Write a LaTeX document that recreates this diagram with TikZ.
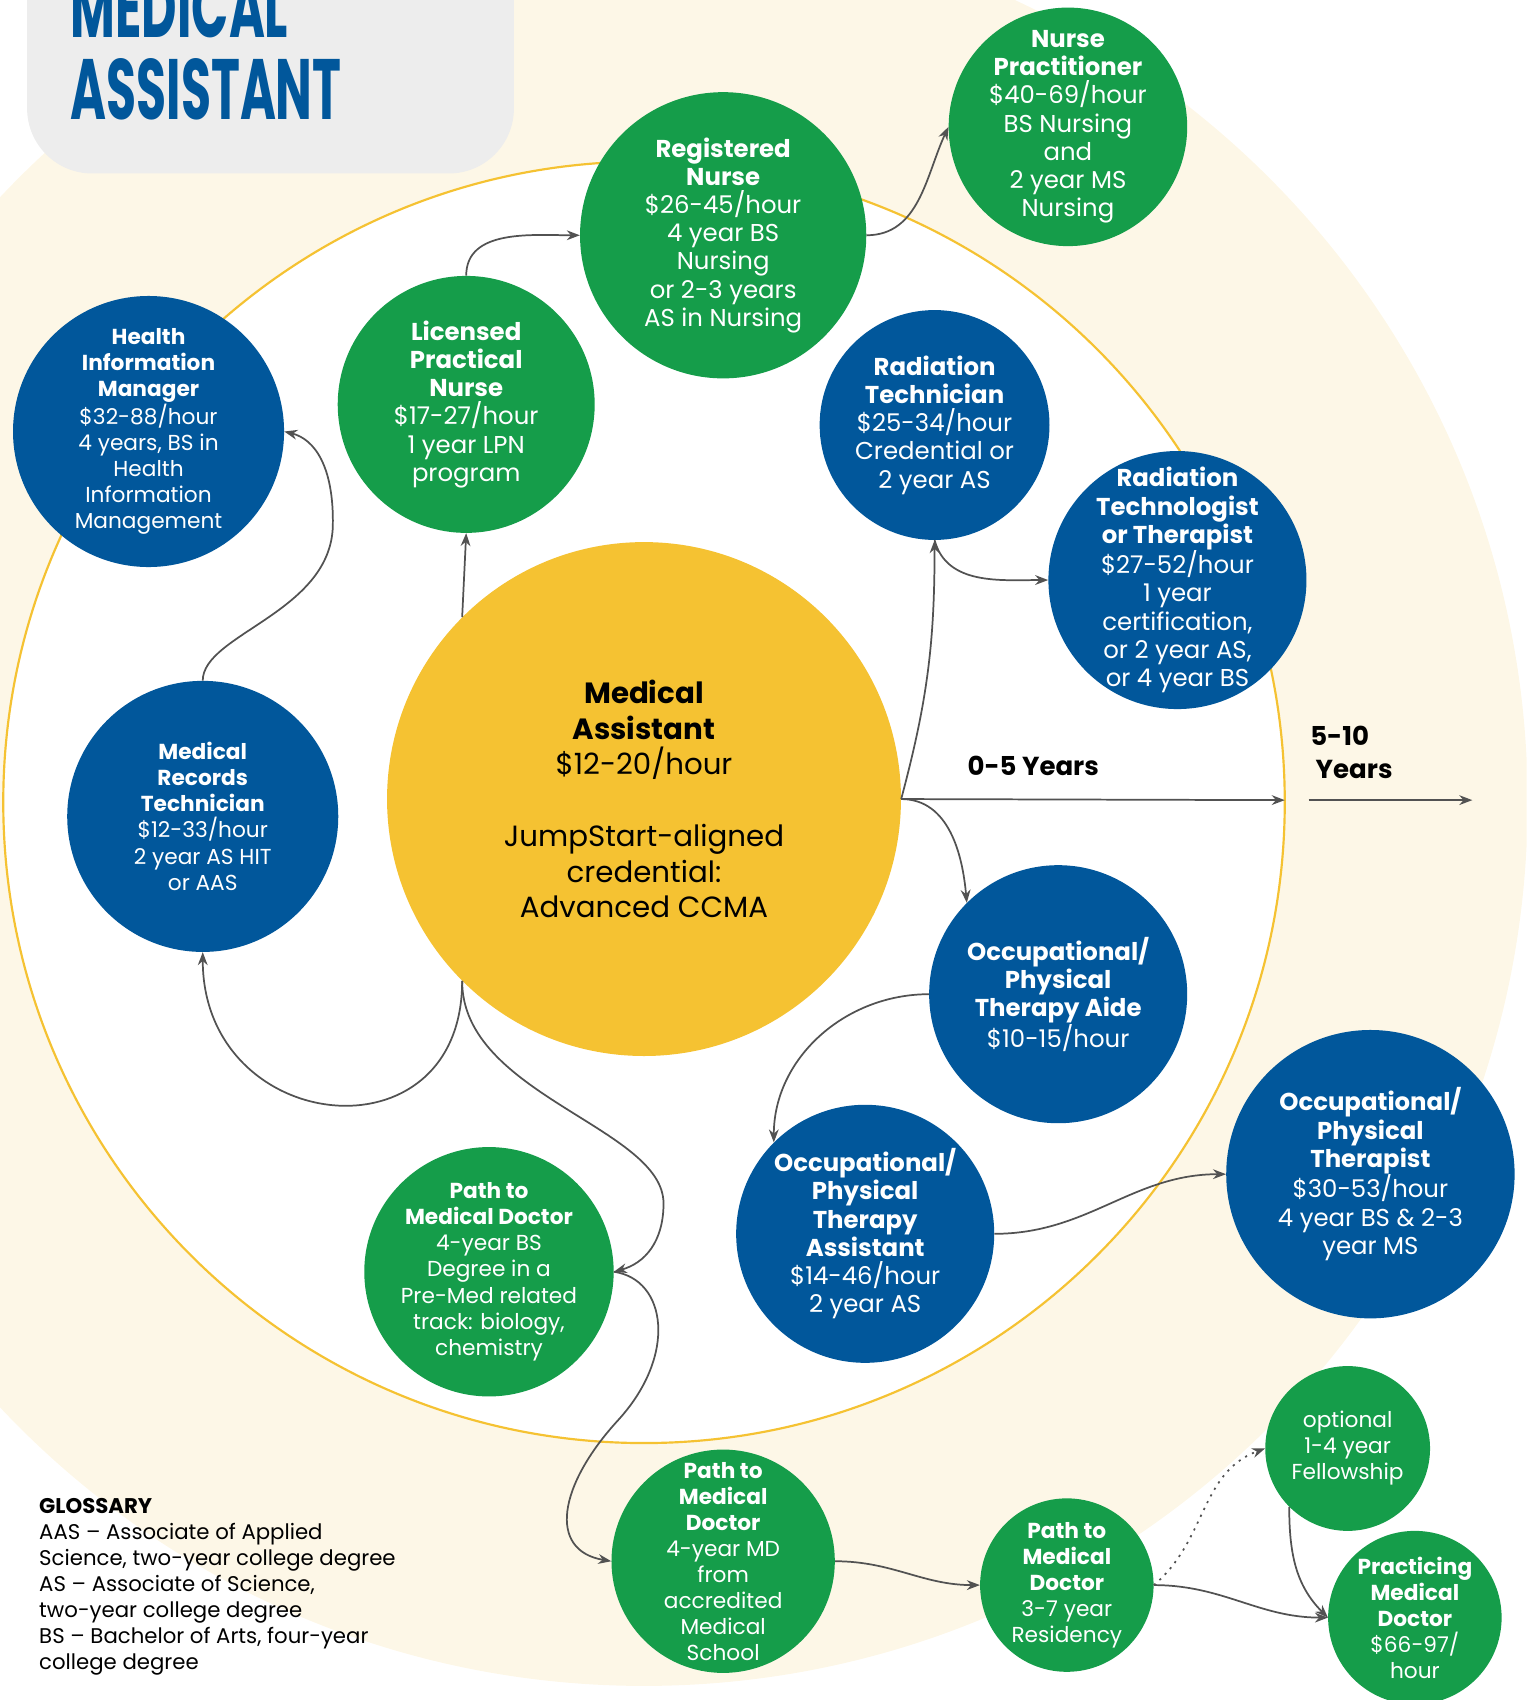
\documentclass[tikz,border=0pt]{standalone}
\usepackage{fontspec}
\setmainfont{Poppins}
\usetikzlibrary{arrows.meta}
\definecolor{MAGreen}{RGB}{21,157,74}
\definecolor{MABlue}{RGB}{1,87,155}
\definecolor{MAYellow}{RGB}{245,194,50}
\definecolor{MACream}{RGB}{253,247,231}
\definecolor{MAGray}{RGB}{237,237,237}
\definecolor{MAArrow}{RGB}{82,82,82}

\begin{document}
\begin{tikzpicture}[>={Stealth[length=12pt,width=9pt]},x=1pt,y=-1pt,
    bub/.style={circle,inner sep=-25pt,align=center,text=white,font=\fontsize{22.5}{26}\selectfont,
      execute at begin node={\rule{0pt}{1.05em}}},
    grn/.style={bub,fill=MAGreen},
    blu/.style={bub,fill=MABlue},
    sm/.style={font=\fontsize{20}{24}\selectfont},
    link/.style={->,line width=1.6pt,MAArrow}]
      \clip (0,0) rectangle (1408,1568);
      % rings
      \fill[MACream] (594,740) circle[radius=815pt];
      \draw[MAYellow,line width=2pt,fill=white] (594,740) circle[radius=591pt];
      % title
      \fill[MAGray,rounded corners=60pt] (25,-100) rectangle (474,160);
      \node[anchor=base west,inner sep=0pt,text=MABlue] (t1) at (65,35) {\scalebox{0.57}[1]{\fontsize{79}{79}\selectfont\bfseries MEDICAL}};
      \node[anchor=base west,inner sep=0pt,text=MABlue] (t2) at (65,110) {\scalebox{0.57}[1]{\fontsize{79}{79}\selectfont\bfseries ASSISTANT}};

      \node[circle,inner sep=0pt,fill=MAYellow,minimum size=474pt,align=center,font=\fontsize{27}{33}\selectfont] (ma) at (594,737)
        {\textbf{Medical}\\\textbf{Assistant}\\\$12-20/hour\\[33pt]JumpStart-aligned\\credential:\\Advanced CCMA};

      \node[grn,minimum size=220pt] (np) at (985,117) {\textbf{Nurse}\\\textbf{Practitioner}\\\$40-69/hour\\BS Nursing\\and\\2 year MS\\Nursing};
      \node[grn,minimum size=264pt] (rn) at (667,217) {\textbf{Registered}\\\textbf{Nurse}\\\$26-45/hour\\4 year BS\\Nursing\\or 2-3 years\\AS in Nursing};
      \node[grn,minimum size=237pt] (lpn) at (430,373) {\textbf{Licensed}\\\textbf{Practical}\\\textbf{Nurse}\\\$17-27/hour\\1 year LPN\\program};
      \node[blu,sm,minimum size=250pt] (him) at (137,398) {\textbf{Health}\\\textbf{Information}\\\textbf{Manager}\\\$32-88/hour\\4 years, BS in\\Health\\Information\\Management};
      \node[blu,minimum size=212pt] (rt) at (862,392) {\textbf{Radiation}\\\textbf{Technician}\\\$25-34/hour\\Credential or\\2 year AS};
      \node[blu,minimum size=238pt] (rtt) at (1086,535) {\textbf{Radiation}\\\textbf{Technologist}\\\textbf{or Therapist}\\\$27-52/hour\\1 year\\certification,\\or 2 year AS,\\or 4 year BS};
      \node[blu,sm,minimum size=250pt] (mrt) at (187,753) {\textbf{Medical}\\\textbf{Records}\\\textbf{Technician}\\\$12-33/hour\\2 year AS HIT\\or AAS};
      \node[blu,minimum size=238pt] (aide) at (976,917) {\textbf{Occupational/}\\\textbf{Physical}\\\textbf{Therapy Aide}\\\$10-15/hour};
      \node[blu,minimum size=238pt] (ota) at (798,1138) {\textbf{Occupational/}\\\textbf{Physical}\\\textbf{Therapy}\\\textbf{Assistant}\\\$14-46/hour\\2 year AS};
      \node[blu,minimum size=266pt] (ott) at (1264,1083) {\textbf{Occupational/}\\\textbf{Physical}\\\textbf{Therapist}\\\$30-53/hour\\4 year BS \& 2-3\\year MS};
      \node[grn,sm,minimum size=230pt] (md1) at (451,1173) {\textbf{Path to}\\\textbf{Medical Doctor}\\4-year BS\\Degree in a\\Pre-Med related\\track: biology,\\chemistry};
      \node[grn,sm,minimum size=206pt] (md2) at (667,1440) {\textbf{Path to}\\\textbf{Medical}\\\textbf{Doctor}\\4-year MD\\from\\accredited\\Medical\\School};
      \node[grn,sm,minimum size=160pt] (res) at (984,1462) {\textbf{Path to}\\\textbf{Medical}\\\textbf{Doctor}\\3-7 year\\Residency};
      \node[grn,sm,minimum size=152pt] (fel) at (1243,1336) {optional\\1-4 year\\Fellowship};
      \node[grn,sm,minimum size=160pt] (pmd) at (1305,1492) {\textbf{Practicing}\\\textbf{Medical}\\\textbf{Doctor}\\\$66-97/\\hour};

      % time scale
      \coordinate (yr5) at (1185,738);
      \coordinate (yr10a) at (1207,738);
      \coordinate (yr10b) at (1358,738);
      \node[font=\fontsize{24}{30}\selectfont\bfseries] (l5) at (953,706) {0-5 Years};
      \node[font=\fontsize{24}{30}\selectfont\bfseries,align=left,anchor=west] (l10) at (1205,694) {5-10\\\hspace{5pt}Years};

      % arrows
      \draw[link] (lpn.north) to[out=90,in=180] (rn.west);
      \draw[link] (rn.east) to[out=0,in=245] (np.west);
      \draw[link] (ma.135) -- (lpn.south);
      \draw[link] (mrt.north) .. controls (187,585) and (305,565) .. (307,485) .. controls (308,430) and (290,405) .. (him.east);
      \draw[link] (ma.225) to[out=-90,in=-90,looseness=1.8] (mrt.south);
      \draw[link] (ma.225) .. controls (426,1010) and (612,1040) .. (612,1110) .. controls (612,1145) and (595,1165) .. (md1.east);
      \draw[link] (md1.east) .. controls (615,1180) and (625,1250) .. (570,1310) .. controls (515,1370) and (505,1430) .. (md2.west);
      \draw[link] (md2.east) to[out=0,in=180] (res.west);
      \draw[link,dash pattern=on 2pt off 5pt] (res.east) to[out=40,in=200] (fel.west);
      \draw[link] (res.east) to[out=0,in=180] (pmd.west);
      \draw[link] (fel.225) to[out=-90,in=135] (pmd.west);
      \draw[link] (ma.east) to[out=75,in=-90] (rt.south);
      \draw[link] (rt.south) to[out=-75,in=180] (rtt.west);
      \draw[link] (ma.east) -- (yr5);
      \draw[link] (ma.east) to[out=0,in=95] (aide.135);
      \draw[link] (aide.west) to[out=180,in=90] (ota.135);
      \draw[link] (ota.east) to[out=0,in=180] (ott.west);
      \draw[link] (yr10a) -- (yr10b);

      % glossary
      \node[anchor=north west,align=left,inner sep=0pt,font=\fontsize{19.6}{24}\selectfont] (gl) at (36,1382)
        {\textbf{GLOSSARY}\\AAS – Associate of Applied\\Science, two-year college degree\\AS – Associate of Science,\\two-year college degree\\BS – Bachelor of Arts, four-year\\college degree};
    \end{tikzpicture}
\end{document}
